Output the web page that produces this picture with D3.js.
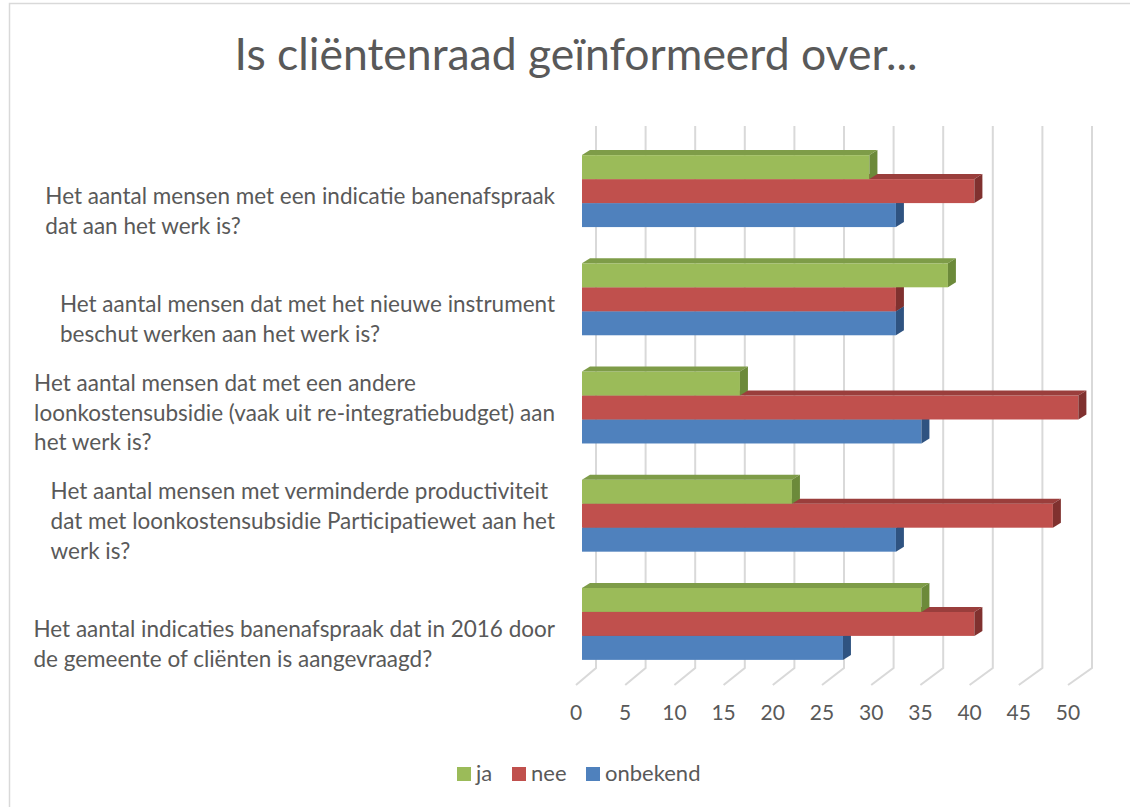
<!DOCTYPE html>
<html>
<head>
<meta charset="utf-8">
<script src="https://cdn.jsdelivr.net/npm/d3@7"></script>
<style>
  body { margin: 0; background: #fff; }
  svg { display: block; font-family: Lato, "Open Sans", sans-serif; }
</style>
</head>
<body>
<div class="chart"></div>
<script>
// categories, top to bottom, already wrapped the way the picture shows them
const categoryLines = [
    ["Het aantal mensen met een indicatie banenafspraak", "dat aan het werk is?"],
    ["Het aantal mensen dat met het nieuwe instrument", "beschut werken aan het werk is?"],
    ["Het aantal mensen dat met een andere", "loonkostensubsidie (vaak uit re-integratiebudget) aan", "het werk is?"],
    ["Het aantal mensen met verminderde productiviteit", "dat met loonkostensubsidie Participatiewet aan het", "werk is?"],
    ["Het aantal indicaties banenafspraak dat in 2016 door", "de gemeente of cliënten is aangevraagd?"]
]
const seriesNames = ["ja", "nee", "onbekend"]
const jaValues = [29.3, 37.3, 16.1, 21.4, 34.6]
const neeValues = [40, 32, 50.6, 48, 40]
const onbekendValues = [32, 32, 34.6, 32, 26.6]
const tickValues = [0, 5, 10, 15, 20, 25, 30, 35, 40, 45, 50]

const title = "Is cliëntenraad geïnformeerd over..."

const width = 1130
const height = 807
const textColor = "#595959"
const gridColor = "#d9d9d9"

// front / top / right-side shading per series
const colors = {
    ja: ["#9bbb59", "#7e9c48", "#6c8a3a"],
    nee: ["#c0504d", "#9a3e3c", "#80312f"],
    onbekend: ["#4f81bd", "#3d6696", "#2f5381"]
}

const valuesBySeries = { ja: jaValues, nee: neeValues, onbekend: onbekendValues }
const keys = categoryLines.map((d, i) => "c" + i)

const svg = d3.select(".chart")
    .append("svg")
    .attr("width", width)
    .attr("height", height)

// chart frame
svg.append("rect")
    .attr("x", 9.5)
    .attr("y", 3.5)
    .attr("width", width + 20)
    .attr("height", height + 20)
    .attr("fill", "#fff")
    .attr("stroke", gridColor)
    .attr("stroke-width", 1.5)

svg.append("text")
    .attr("x", 576)
    .attr("y", 70)
    .attr("text-anchor", "middle")
    .attr("font-size", 44.5)
    .attr("fill", textColor)
    .text(title)

// value scales: back wall, front edge of floor, and bar front faces
const xBack = d3.scaleLinear().domain([0, 50]).range([596, 1092])
const xFront = d3.scaleLinear().domain([0, 50]).range([576, 1068])
const xBar = d3.scaleLinear().domain([0, 50]).range([582, 1072.5])

const yGroup = d3.scaleBand()
    .domain(keys)
    .range([137, 678])
    .paddingInner(0.335)
    .paddingOuter(0.1675)

const ySeries = d3.scaleBand()
    .domain(seriesNames)
    .range([0, yGroup.bandwidth()])

const wallTop = 126
const wallBottom = 668
const floorFront = 685

// gridlines on back wall + floor
svg.append("g")
    .selectAll("path")
    .data(tickValues)
    .join("path")
    .attr("d", d => `M${xBack(d)},${wallTop}L${xBack(d)},${wallBottom}L${xFront(d)},${floorFront}`)
    .attr("fill", "none")
    .attr("stroke", gridColor)
    .attr("stroke-width", 2)

svg.append("g")
    .selectAll("text")
    .data(tickValues)
    .join("text")
    .attr("x", d => xFront(d))
    .attr("y", 720)
    .attr("text-anchor", "middle")
    .attr("font-size", 21)
    .attr("fill", textColor)
    .text(d => d)

// 3d bars
const depthX = 8
const depthY = -5
const drawOrder = ["onbekend", "nee", "ja"]

const groups = svg.append("g")
    .selectAll("g")
    .data(keys)
    .join("g")
    .attr("transform", d => `translate(0,${yGroup(d)})`)

groups.each(function (key, i) {
    const g = d3.select(this)
    drawOrder.forEach(s => {
        const v = valuesBySeries[s][i]
        const x0 = xBar(0)
        const x1 = xBar(v)
        const y0 = ySeries(s)
        const h = ySeries.bandwidth()
        const c = colors[s]
        g.append("rect")
            .attr("x", x0)
            .attr("y", y0)
            .attr("width", x1 - x0)
            .attr("height", h)
            .attr("fill", c[0])
        g.append("path")
            .attr("d", `M${x0},${y0}L${x1},${y0}L${x1 + depthX},${y0 + depthY}L${x0 + depthX},${y0 + depthY}Z`)
            .attr("fill", c[1])
        g.append("path")
            .attr("d", `M${x1},${y0}L${x1 + depthX},${y0 + depthY}L${x1 + depthX},${y0 + h + depthY}L${x1},${y0 + h}Z`)
            .attr("fill", c[2])
    })
})

// category labels, bottom line level with the bottom of each group
const labelRight = 555
const lineHeight = 29.8
const labels = svg.append("g")
    .selectAll("text")
    .data(categoryLines)
    .join("text")
    .attr("font-size", 22.5)
    .attr("fill", textColor)

labels.each(function (lines, i) {
    const t = d3.select(this)
    const lastY = yGroup(keys[i]) + yGroup.bandwidth() + 7
    lines.forEach((line, j) => {
        t.append("tspan")
            .attr("y", lastY - (lines.length - 1 - j) * lineHeight)
            .text(line)
    })
    let maxW = 0
    t.selectAll("tspan").each(function () {
        maxW = Math.max(maxW, this.getComputedTextLength())
    })
    t.selectAll("tspan").attr("x", labelRight - maxW)
})

// legend
const legend = svg.append("g")
    .attr("transform", "translate(457,767)")
const legendX = [0, 55, 129]
legend.selectAll("rect")
    .data(seriesNames)
    .join("rect")
    .attr("x", (d, i) => legendX[i])
    .attr("y", 0)
    .attr("width", 14)
    .attr("height", 14)
    .attr("fill", d => colors[d][0])
legend.selectAll("text")
    .data(seriesNames)
    .join("text")
    .attr("x", (d, i) => legendX[i] + 19)
    .attr("y", 14)
    .attr("font-size", 22)
    .attr("fill", textColor)
    .text(d => d)
</script>
</body>
</html>
